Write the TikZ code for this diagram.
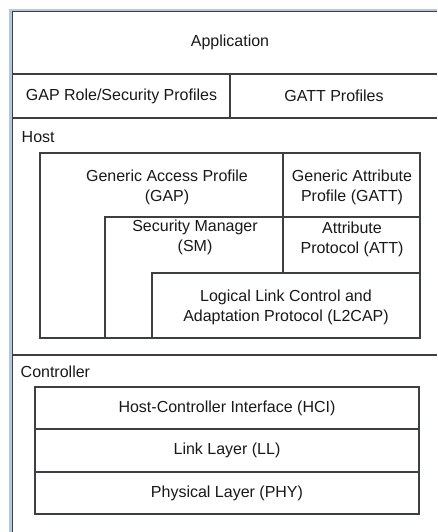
\documentclass[tikz,border=0pt]{standalone}
\usepackage{fontspec}
\setmainfont{Liberation Sans}
\definecolor{framebar}{HTML}{B4C6E0}
\definecolor{rule}{HTML}{3C3F46}
\tikzset{
  layer/.style={draw=rule, line width=1.1pt},
  lbl/.style={inner sep=0pt, align=center, font=\fontsize{16}{20}\selectfont, text=black!90},
  sect/.style={lbl, anchor=west}
}
\begin{document}
\begin{tikzpicture}[x=1pt, y=-1pt]
\useasboundingbox (0,0) rectangle (437,532);
\fill[white] (0,0) rectangle (437,532);

% light blue edge of the outer frame
\fill[framebar] (9,9) rectangle (437,11);
\fill[framebar] (9,9) rectangle (12,532);

% outer frame and horizontal section rules
\draw[layer] (437,11.5) -- (12.5,11.5) -- (12.5,532);
\draw[layer] (12.5,74) -- (437,74);
\draw[layer] (230,74) -- (230,118);
\draw[layer] (12.5,118) -- (437,118);
\draw[layer] (12.5,355) -- (437,355);

% application and profiles
\node[lbl] (app) at (230,42) {Application};
\node[lbl] (gaprole) at (121.5,96) {GAP Role/Security Profiles};
\node[lbl] (gattprof) at (334,96) {GATT Profiles};

% host stack
\node[sect] (host) at (21.5,137) {Host};
\draw[layer] (40,153) rectangle (420,338);
\draw[layer] (283,153) -- (283,273);
\draw[layer] (105,338) -- (105,217) -- (420,217);
\draw[layer] (152,338) -- (152,273) -- (420,273);
\node[lbl] (gap) at (167,187) {Generic Access Profile\\(GAP)};
\node[lbl] (gatt) at (352,187) {Generic Attribute\\Profile (GATT)};
\node[lbl] (sm) at (195,237.5) {Security Manager\\(SM)};
\node[lbl] (att) at (352,239.5) {Attribute\\Protocol (ATT)};
\node[lbl] (l2cap) at (286,307) {Logical Link Control and\\Adaptation Protocol (L2CAP)};

% controller stack
\node[sect] (ctrl) at (20.5,372) {Controller};
\draw[layer] (35,387) rectangle (419,514);
\draw[layer] (35,429) -- (419,429);
\draw[layer] (35,472) -- (419,472);
\node[lbl] (hci) at (227,408) {Host-Controller Interface (HCI)};
\node[lbl] (ll) at (227,450.5) {Link Layer (LL)};
\node[lbl] (phy) at (227,493) {Physical Layer (PHY)};
\end{tikzpicture}
\end{document}
